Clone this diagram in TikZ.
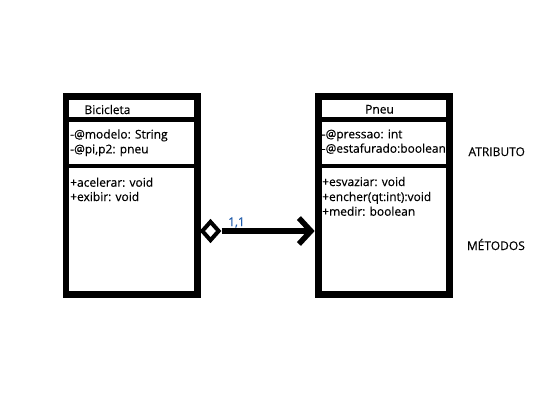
\documentclass[tikz,border=0pt]{standalone}
\usepackage{fontspec}
\setmainfont{Open Sans}[FakeBold=0.3]
\usetikzlibrary{shapes.geometric,arrows.meta}
\definecolor{lblblue}{RGB}{30,90,170}
\tikzset{
  umlbox/.style={draw=black,fill=white,line width=6.5pt,rectangle,inner sep=0pt,minimum width=131.5pt,minimum height=198pt},
  sepline/.style={line width=4.3pt},
  txt/.style={inner sep=0pt,anchor=base west,font=\fontsize{12}{14}\selectfont},
  agg/.style={draw=black,fill=white,diamond,line width=4pt,inner sep=0pt,minimum width=18pt,minimum height=20pt},
  conn/.style={line width=6.5pt,-{Straight Barb[length=12pt,width=26pt,line width=5.5pt]}}
}
\begin{document}
\begin{tikzpicture}[x=1pt,y=-1pt]
\useasboundingbox (0,0) rectangle (559,402);
% boxes
\node[umlbox] (bic) at (131.8,195.5) {};
\node[umlbox,minimum width=131pt] (pneu) at (383.9,195.5) {};
% separators
\coordinate (b1) at (66,119.5); \coordinate (b2) at (66,166);
\draw[sepline] (b1) -- (b1 -| bic.east);
\draw[sepline] (b2) -- (b2 -| bic.east);
\coordinate (p1) at (318.4,119.5); \coordinate (p2) at (318.4,165.7);
\draw[sepline] (p1) -- (p1 -| pneu.east);
\draw[sepline] (p2) -- (p2 -| pneu.east);
% texts Bicicleta
\node[txt] (bicname) at (84.3,114) {Bicicleta};
\node[txt] (ba1) at (70,138.5) {-@modelo: String};
\node[txt] (ba2) at (70,153.3) {-@pi,p2: pneu};
\node[txt] (bm1) at (70,186.7) {+acelerar: void};
\node[txt] (bm2) at (70,201) {+exibir: void};
% texts Pneu
\node[txt] (pname) at (365,113.5) {Pneu};
\node[txt] (pa1) at (321.5,138.3) {-@pressao: int};
\node[txt] (pa2) at (321.5,152.7) {-@estafurado:boolean};
\node[txt] (pm1) at (322,186) {+esvaziar: void};
\node[txt] (pm2) at (322,201) {+encher(qt:int):void};
\node[txt] (pm3) at (322,215.7) {+medir: boolean};
% side labels
\node[txt] (atr) at (468.3,156) {ATRIBUTO};
\node[txt] (met) at (466.7,250) {MÉTODOS};
% connector
\node[agg] (dia) at (210.5,231) {};
\draw[conn,shorten >=0.5pt] (dia.east) -- (dia.east -| pneu.west);
\node[txt,text=lblblue] (mult) at (228,226) {1,1};
\end{tikzpicture}
\end{document}
